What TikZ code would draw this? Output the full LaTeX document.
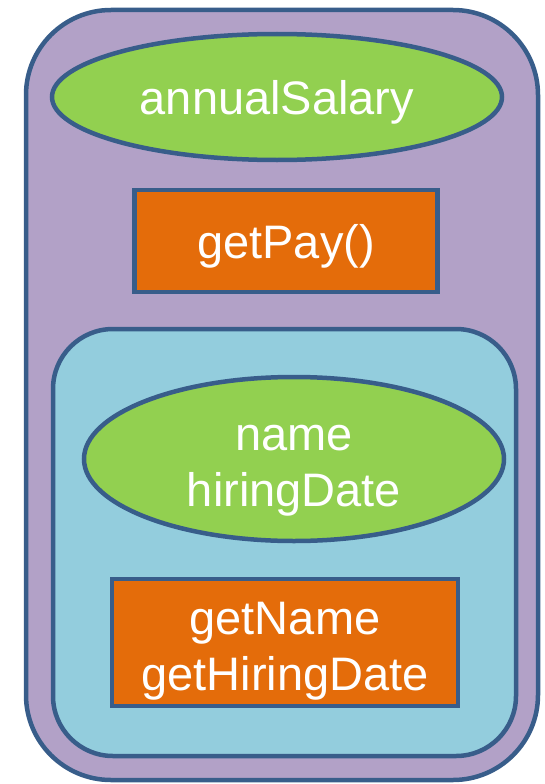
\documentclass[tikz,border=0pt]{standalone}
\usepackage{fontspec}
\setmainfont{Liberation Sans}
\usetikzlibrary{positioning,shapes.geometric}

\definecolor{classborder}{HTML}{385D8A}
\definecolor{outerpurple}{HTML}{B2A1C7}
\definecolor{innerblue}{HTML}{93CDDD}
\definecolor{fieldgreen}{HTML}{92D050}
\definecolor{methodorange}{HTML}{E46C0A}

\newcommand{\classfont}{\fontsize{47}{56}\selectfont}
\newcommand{\down}[1]{\raisebox{-19.5pt}[0pt][0pt]{#1}}

\begin{document}
\begin{tikzpicture}[x=1pt, y=-1pt,
    every node/.style={draw=classborder, line width=4.5pt, outer sep=0pt, inner sep=0pt},
    scopebox/.style={rectangle, rounded corners=#1},
    member/.style={text=white, font=\classfont, align=center,
      execute at begin node={\rule{0pt}{45pt}}},
    field/.style={member, ellipse, fill=fieldgreen},
    method/.style={member, rectangle, fill=methodorange}]

  \useasboundingbox (0,0) rectangle (545,784);

  % outer class
  \node[scopebox=85pt, fill=outerpurple, minimum width=512pt,
    minimum height=770pt] (employee) at (282,395) {};
  \node[field, minimum width=450pt, minimum height=126pt] (salary)
    at (277,97) {annualSalary};
  \node[method, below=30pt of salary, xshift=9pt, minimum width=303pt,
    minimum height=102pt] (getpay) {getPay()};

  % inner class
  \node[scopebox=60pt, fill=innerblue, minimum width=463pt,
    minimum height=427pt] (person) at (284.5,542.5) {};
  \node[field, below=48pt of person.north, xshift=9.5pt,
    minimum width=420pt, minimum height=164pt] (personfields)
    {\down{name}\\\down{hiringDate}};
  \node[method, below=38pt of personfields, xshift=-9pt,
    minimum width=346pt, minimum height=127pt] (getters)
    {\down{getName}\\\down{getHiringDate}};
\end{tikzpicture}
\end{document}
